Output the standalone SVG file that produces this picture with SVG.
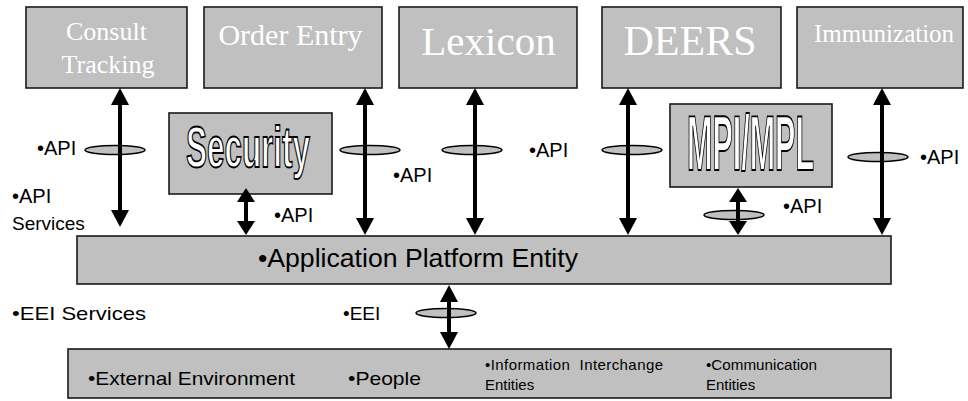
<svg xmlns="http://www.w3.org/2000/svg" width="968" height="401" viewBox="0 0 968 401">
<style>
.box{fill:#c0c0c0;stroke:#1a1a1a;stroke-width:1.6}
.ttl{font-family:"Liberation Serif","Times New Roman",serif;fill:#ffffff;text-anchor:middle}
.lbl{font-family:"Liberation Sans",Arial,sans-serif;font-size:19px;fill:#000}
.api{font-family:"Liberation Sans",Arial,sans-serif;font-size:20px;fill:#000}
.sm{font-family:"Liberation Sans",Arial,sans-serif;font-size:15px;fill:#000}
.out{font-family:"Liberation Sans Narrow","Liberation Sans",Arial,sans-serif;font-weight:bold;fill:#ffffff;stroke:#000;stroke-width:1.8}
.ell{fill:#c0c0c0;stroke:#000;stroke-width:1.5}
.arr{stroke:#000;stroke-width:4;fill:none;marker-start:url(#ah);marker-end:url(#ah)}
.arrs{stroke:#000;stroke-width:4;fill:none;marker-start:url(#ahs);marker-end:url(#ahs)}
</style>
<defs>
<marker id="ah" viewBox="0 0 17 18" refX="0" refY="9" markerWidth="17" markerHeight="18" markerUnits="userSpaceOnUse" orient="auto-start-reverse"><path d="M0,0 L17,9 L0,18 z" fill="#000"/></marker>
<marker id="ahs" viewBox="0 0 14 18" refX="0" refY="9" markerWidth="14" markerHeight="18" markerUnits="userSpaceOnUse" orient="auto-start-reverse"><path d="M0,0 L14,9 L0,18 z" fill="#000"/></marker>
</defs>
<rect width="968" height="401" fill="#ffffff"/>

<g id="consult"><rect class="box" x="26" y="7" width="161" height="81"/><text class="ttl" x="106.5" y="40" font-size="26">Consult</text><text class="ttl" x="108" y="73" font-size="26">Tracking</text></g>
<g id="order-entry"><rect class="box" x="204" y="7" width="178" height="81"/><text class="ttl" x="290.5" y="45" font-size="30">Order Entry</text></g>
<g id="lexicon"><rect class="box" x="399" y="7" width="178" height="81"/><text class="ttl" x="488.5" y="55" font-size="41">Lexicon</text></g>
<g id="deers"><rect class="box" x="602" y="7" width="179" height="81"/><text class="ttl" x="690" y="55" font-size="42">DEERS</text></g>
<g id="immunization"><rect class="box" x="797" y="7" width="166" height="81"/><text class="ttl" x="884" y="42" font-size="25">Immunization</text></g>

<g id="security"><rect class="box" x="169" y="113" width="163" height="81"/><text class="out" x="186" y="167" font-size="58" textLength="124" lengthAdjust="spacingAndGlyphs">Security</text></g>
<g id="mpi-mpl"><rect class="box" x="670" y="104" width="162" height="83"/><text class="out" x="687" y="170" font-size="78" textLength="127" lengthAdjust="spacingAndGlyphs">MPI/MPL</text></g>

<g id="app-platform"><rect class="box" x="77" y="236" width="814" height="48"/><text class="lbl" x="258" y="267" textLength="320" lengthAdjust="spacingAndGlyphs" style="font-size:26.5px">•Application Platform Entity</text></g>

<g id="external"><rect class="box" x="68" y="349" width="823" height="49"/>
<text class="lbl" x="88" y="385" textLength="207" lengthAdjust="spacingAndGlyphs">•External Environment</text>
<text class="lbl" x="348" y="385" textLength="73" lengthAdjust="spacingAndGlyphs">•People</text>
<text class="sm" x="485" y="370" textLength="178" lengthAdjust="spacing" xml:space="preserve">•Information  Interchange</text>
<text class="sm" x="485" y="390">Entities</text>
<text class="sm" x="706" y="370" textLength="111" lengthAdjust="spacingAndGlyphs">•Communication</text>
<text class="sm" x="706" y="390">Entities</text>
</g>

<g id="connectors">
<ellipse class="ell" cx="115" cy="150" rx="30" ry="4.5"/>
<ellipse class="ell" cx="370" cy="150" rx="30" ry="4.5"/>
<ellipse class="ell" cx="472" cy="150" rx="30" ry="4.5"/>
<ellipse class="ell" cx="632" cy="150" rx="30" ry="4.5"/>
<ellipse class="ell" cx="878" cy="157" rx="30" ry="4.5"/>
<ellipse class="ell" cx="734" cy="215" rx="30" ry="4.5"/>
<ellipse class="ell" cx="446" cy="313" rx="30" ry="4.5"/>
<line class="arr" x1="120" y1="105" x2="120" y2="210"/>
<line class="arr" x1="365" y1="105" x2="365" y2="218"/>
<line class="arr" x1="475" y1="105" x2="475" y2="218"/>
<line class="arr" x1="628" y1="105" x2="628" y2="218"/>
<line class="arr" x1="882" y1="105" x2="882" y2="218"/>
<line class="arrs" x1="246" y1="202" x2="246" y2="221"/>
<line class="arrs" x1="738" y1="202" x2="738" y2="221"/>
<line class="arr" x1="449" y1="302" x2="449" y2="332"/>
</g>

<g id="labels">
<text class="api" x="37" y="155">•API</text>
<text class="api" x="12" y="203">•API</text>
<text class="lbl" x="12" y="230">Services</text>
<text class="api" x="274" y="222">•API</text>
<text class="api" x="393" y="182">•API</text>
<text class="api" x="529" y="157">•API</text>
<text class="api" x="783" y="213">•API</text>
<text class="api" x="920" y="164">•API</text>
<text class="lbl" x="12" y="320" textLength="134" lengthAdjust="spacingAndGlyphs">•EEI Services</text>
<text class="lbl" x="343" y="320">•EEI</text>
</g>
</svg>
